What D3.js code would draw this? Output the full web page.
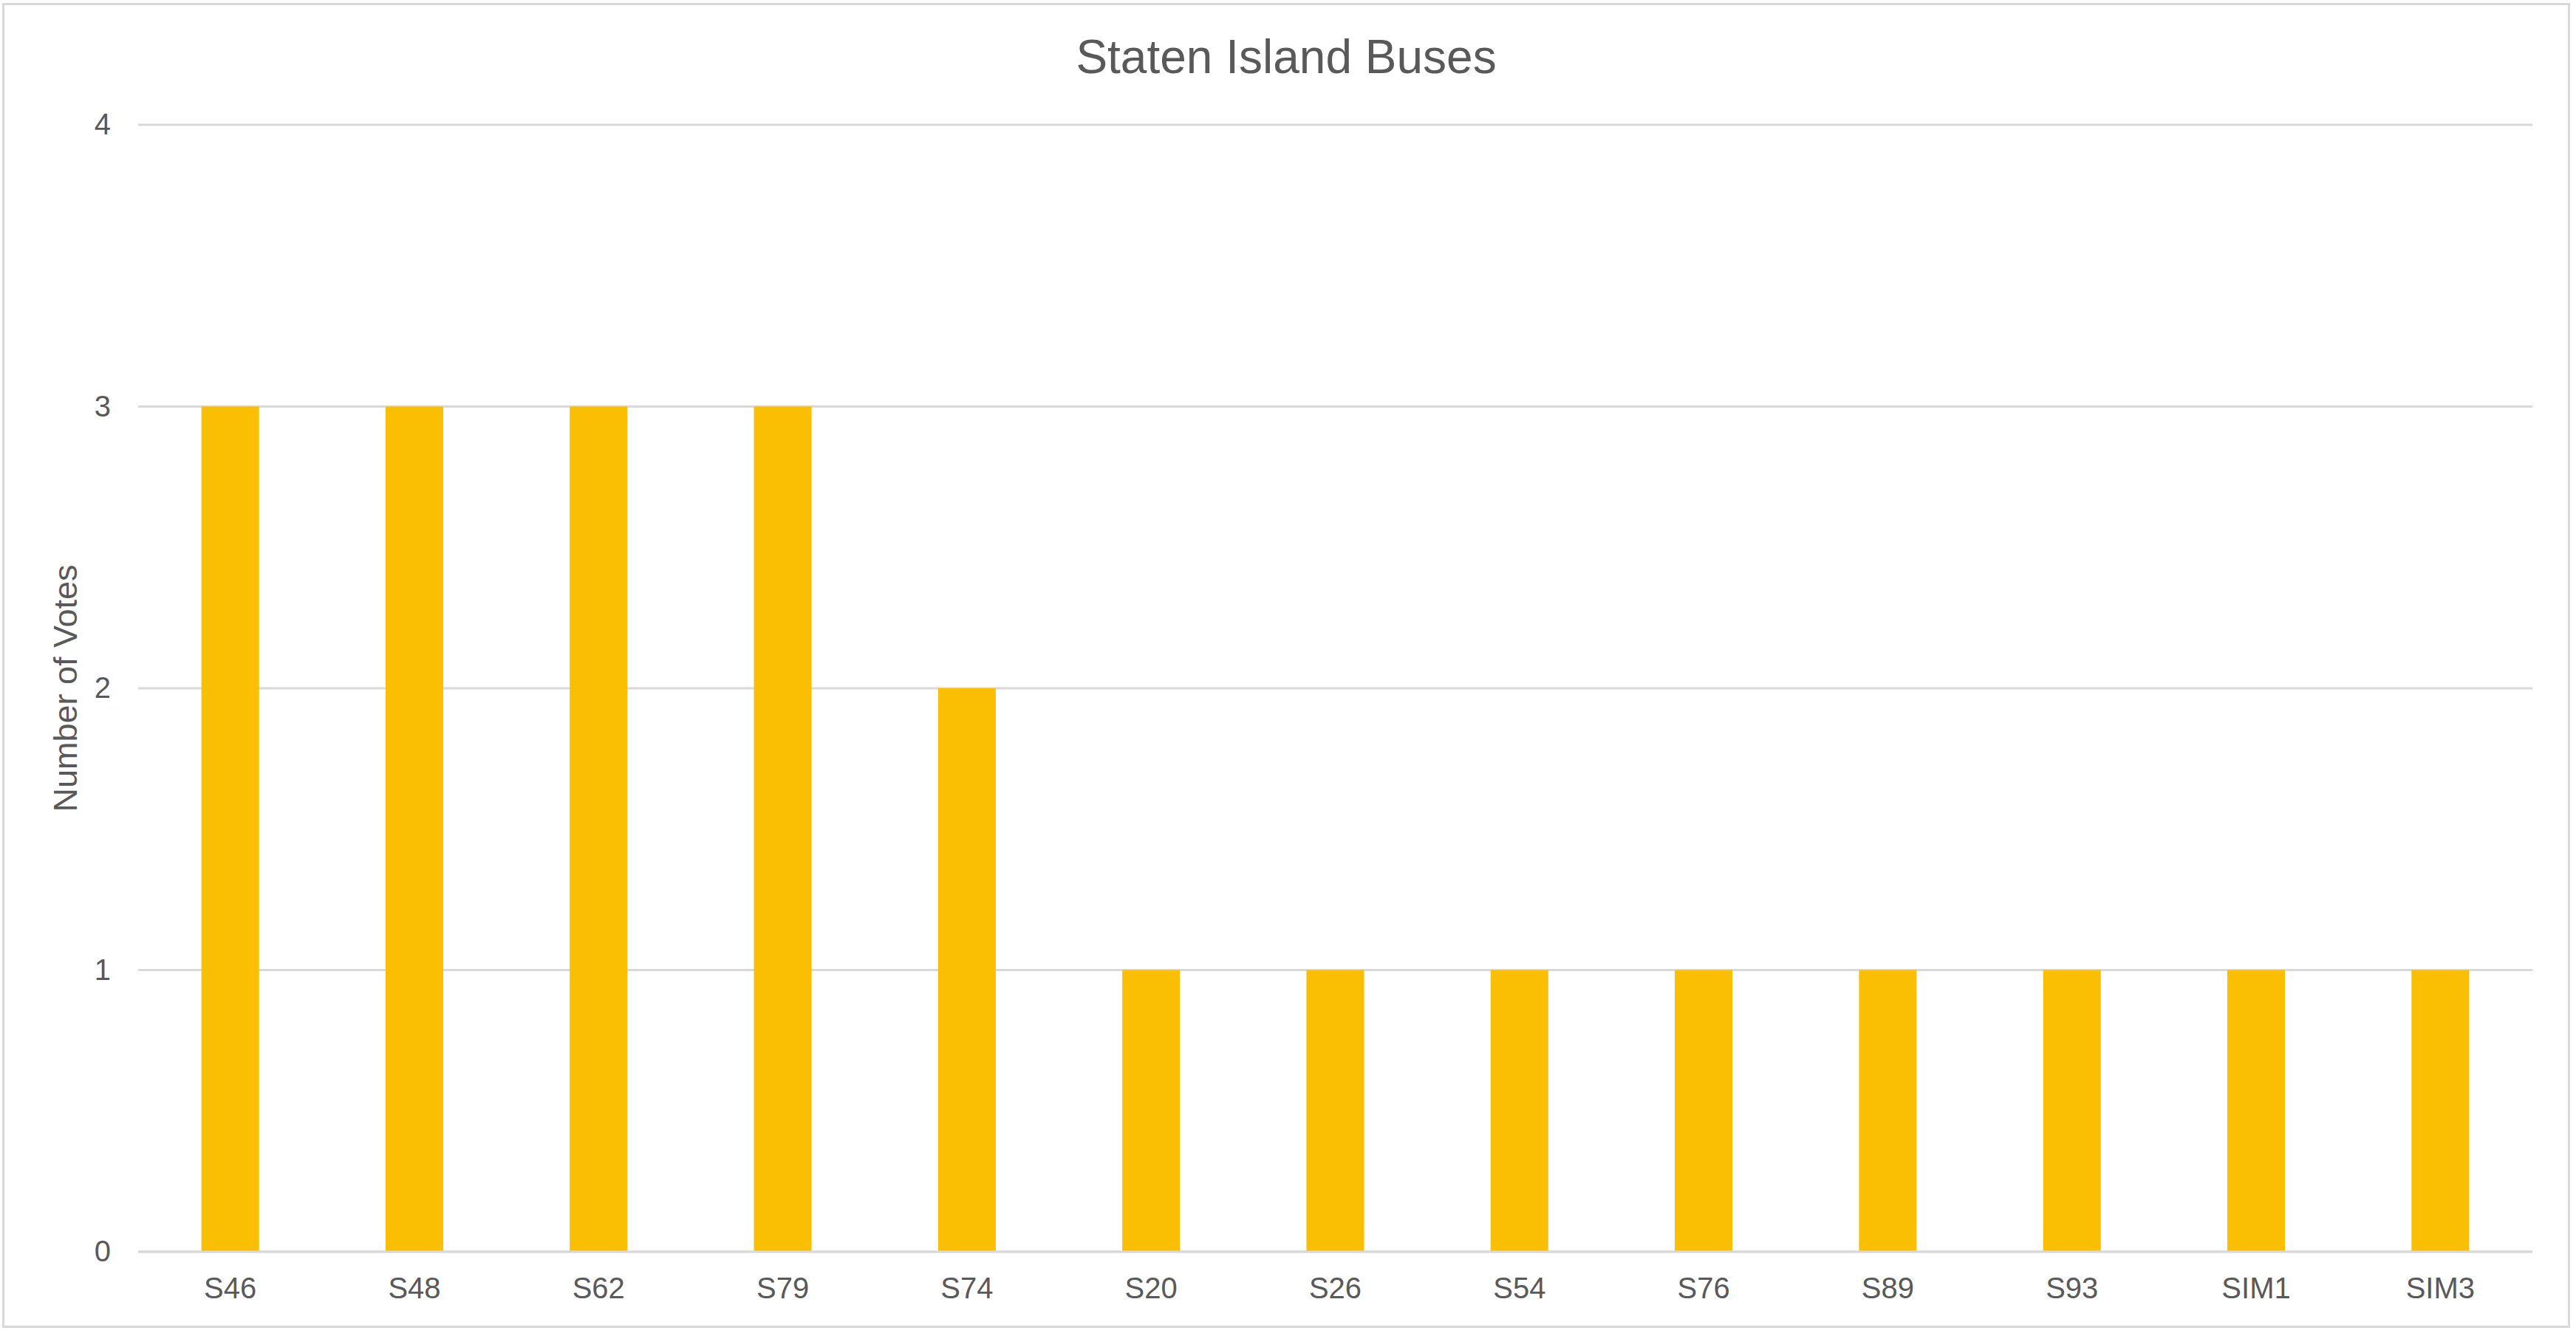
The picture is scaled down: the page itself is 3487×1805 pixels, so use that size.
<!DOCTYPE html>
<html>
<head>
<meta charset="utf-8">
<script src="https://cdn.jsdelivr.net/npm/d3@7"></script>
<style>
  html, body { margin: 0; padding: 0; background: #fff; }
  svg { display: block; }
  text { font-family: "Liberation Sans", Arial, sans-serif; fill: #595959; }
</style>
</head>
<body>
<script>
const categories = ["S46", "S48", "S62", "S79", "S74", "S20", "S26", "S54", "S76", "S89", "S93", "SIM1", "SIM3"];
const votes = [3, 3, 3, 3, 2, 1, 1, 1, 1, 1, 1, 1, 1];
const yTicks = [0, 1, 2, 3, 4];
const title = "Staten Island Buses";
const yTitle = "Number of Votes";

const W = 3487, H = 1805;
const plot = { left: 187, right: 3428, top: 169, bottom: 1695 };

const svg = d3.select("body").append("svg").attr("width", W).attr("height", H);

svg.append("rect").attr("x", 0).attr("y", 0).attr("width", W).attr("height", H).attr("fill", "#fff");
svg.append("rect")
  .attr("x", 4.5).attr("y", 5.5).attr("width", 3473).attr("height", 1791)
  .attr("fill", "none").attr("stroke", "#D9D9D9").attr("stroke-width", 3);

const x = d3.scaleBand().domain(categories).range([plot.left, plot.right])
  .paddingInner(0.687).paddingOuter(0.3435);
const y = d3.scaleLinear().domain([0, 4]).range([plot.bottom, plot.top]);

// gridlines
svg.append("g").selectAll("line").data(yTicks).join("line")
  .attr("x1", plot.left).attr("x2", plot.right)
  .attr("y1", d => y(d)).attr("y2", d => y(d))
  .attr("stroke", "#D9D9D9").attr("stroke-width", 3);

// y axis labels
const yAxis = svg.append("g").attr("transform", `translate(${plot.left},0)`)
  .call(d3.axisLeft(y).tickValues(yTicks).tickSize(0).tickPadding(37).tickFormat(d3.format("d")));
yAxis.select(".domain").remove();
yAxis.selectAll("text").style("font-size", "40px").attr("fill", "#595959")
  .style("font-family", '"Liberation Sans", Arial, sans-serif');

// bars
svg.append("g").selectAll("rect").data(categories).join("rect")
  .attr("x", d => x(d))
  .attr("width", x.bandwidth())
  .attr("y", (d, i) => y(votes[i]))
  .attr("height", (d, i) => y(0) - y(votes[i]))
  .attr("fill", "#FABE02");

// x axis baseline
svg.append("line")
  .attr("x1", plot.left).attr("x2", plot.right)
  .attr("y1", y(0)).attr("y2", y(0))
  .attr("stroke", "#D9D9D9").attr("stroke-width", 3);

const xAxis = svg.append("g").attr("transform", `translate(0,${plot.bottom})`)
  .call(d3.axisBottom(x).tickSize(0));
xAxis.select(".domain").remove();
xAxis.selectAll("text").attr("y", 63).attr("dy", 0)
  .style("font-size", "40px").attr("fill", "#595959")
  .style("font-family", '"Liberation Sans", Arial, sans-serif');

// title
svg.append("text").attr("x", 1741).attr("y", 99)
  .attr("text-anchor", "middle").style("font-size", "64px").text(title);

// y axis title
svg.append("text")
  .attr("transform", `translate(104,${(plot.top + plot.bottom) / 2}) rotate(-90)`)
  .attr("text-anchor", "middle").style("font-size", "45px").text(yTitle);
</script>
</body>
</html>
